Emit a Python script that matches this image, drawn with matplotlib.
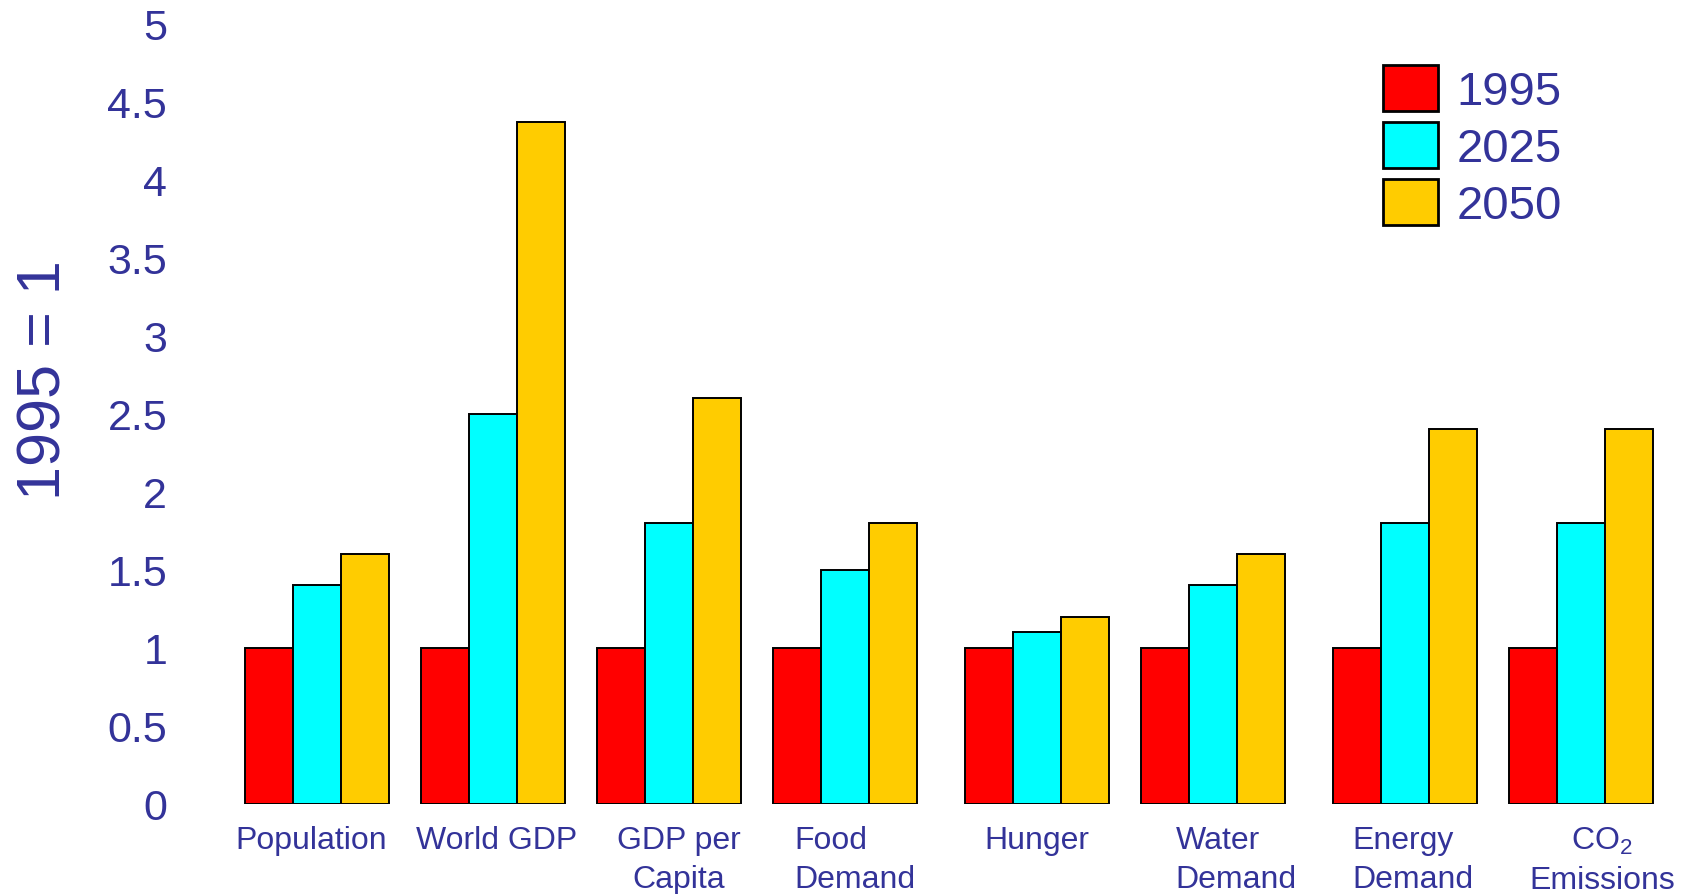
import matplotlib
matplotlib.use("Agg")
import matplotlib.pyplot as plt
import numpy as np

plt.rcParams["font.family"] = ["Liberation Sans", "DejaVu Sans"]
plt.rcParams["mathtext.default"] = "regular"

# --- dados (1995 = 1) ---
categories = ["Population", "World GDP", "GDP per\nCapita", "Food\nDemand",
              "Hunger", "Water\nDemand", "Energy\nDemand", "CO$_2$\nEmissions"]
years = ["1995", "2025", "2050"]
v1995 = [1.0, 1.0, 1.0, 1.0, 1.0, 1.0, 1.0, 1.0]
v2025 = [1.4, 2.5, 1.8, 1.5, 1.1, 1.4, 1.8, 1.8]
v2050 = [1.6, 4.37, 2.6, 1.8, 1.2, 1.6, 2.4, 2.4]

# posicoes dos grupos (espacos maiores antes de Hunger e Energy)
group_x = np.array([0.0, 1.0, 2.0, 3.0, 4.09, 5.09, 6.18, 7.18])
label_x = [-0.034, 1.016, 2.053, 3.056, 4.09, 5.22, 6.224, 7.30]
label_align = ["center", "center", "center", "left", "center", "left", "left", "center"]

colors = ["#FF0000", "#00FFFF", "#FFCC00"]
text_color = "#333399"
width = 0.2725

fig = plt.figure(figsize=(16.9, 8.95), dpi=100)
ax = fig.add_axes([220 / 1690, 0.1006, 1450 / 1690, 0.8724])

for i, (vals, color, year) in enumerate(zip([v1995, v2025, v2050], colors, years)):
    ax.bar(group_x + (i - 1) * width, vals, width=width, color=color,
           edgecolor="black", linewidth=1.4, label=year)

ax.set_xlim(-0.553, 7.685)
ax.set_ylim(0, 5)
ax.set_yticks(np.arange(0, 5.01, 0.5))
ax.set_yticklabels(["0", "0.5", "1", "1.5", "2", "2.5", "3", "3.5", "4", "4.5", "5"])
ax.tick_params(axis="y", length=0, pad=38, labelsize=31, labelcolor=text_color)
ax.set_xticks([])
for s in ax.spines.values():
    s.set_visible(False)

# rotulos das categorias, logo abaixo da base das barras
for lx, cat, al in zip(label_x, categories, label_align):
    ax.text(lx, -0.027, cat, ha="center", va="top", fontsize=23,
            color=text_color, multialignment=al, linespacing=1.4,
            transform=ax.get_xaxis_transform())

fig.text(45 / 1690, 1 - 380 / 895, "1995 = 1", rotation=90, fontsize=44,
         color=text_color, ha="center", va="center")

leg = ax.legend(loc="upper left", bbox_to_anchor=(1383 / 1690, 1 - 66 / 895),
                bbox_transform=fig.transFigure, frameon=False, fontsize=34,
                handlelength=1.17, handleheight=1.12, handletextpad=0.38,
                labelspacing=0.17, borderpad=0, borderaxespad=0)
for t in leg.get_texts():
    t.set_color(text_color)
for h in leg.legend_handles:
    h.set_linewidth(2.0)

fig.savefig("out.png", dpi=100, facecolor="white")
